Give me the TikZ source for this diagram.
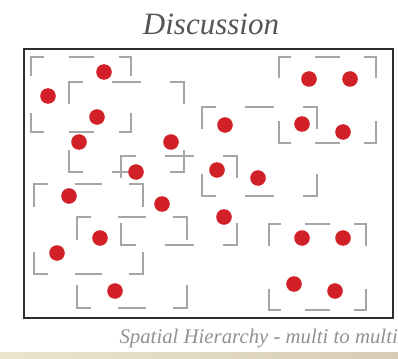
\documentclass[tikz,border=0pt]{standalone}
\usepackage{fontspec}
\setmainfont{Liberation Serif}
\definecolor{dotred}{RGB}{210,32,40}
\definecolor{grpgray}{RGB}{165,165,165}
\definecolor{framegray}{RGB}{45,45,45}
\definecolor{titlegray}{RGB}{85,85,85}
\definecolor{capgray}{RGB}{145,145,145}
\definecolor{stripa}{RGB}{236,228,205}
\definecolor{stripb}{RGB}{215,205,180}
\tikzset{
  grp/.style={draw=grpgray,line width=1.1pt,line join=miter},
  dot/.style={fill=dotred},
  frame/.style={draw=framegray,line width=1.4pt},
}
\newcommand{\grprect}[4]{%
  \pgfmathsetmacro\ga{(#3-#1)/8}%
  \pgfmathsetmacro\gb{(#4-#2)/4}%
  \pgfmathsetmacro\gm{(#1+#3)/2}%
  \draw[grp] (#1+\ga,#2) -- (#1,#2) -- (#1,#2+\gb);
  \draw[grp] (#3-\ga,#2) -- (#3,#2) -- (#3,#2+\gb);
  \draw[grp] (#1+\ga,#4) -- (#1,#4) -- (#1,#4-\gb);
  \draw[grp] (#3-\ga,#4) -- (#3,#4) -- (#3,#4-\gb);
  \draw[grp] (\gm-\ga,#2) -- (\gm+\ga,#2);
  \draw[grp] (\gm-\ga,#4) -- (\gm+\ga,#4);
}
\begin{document}
\begin{tikzpicture}[x=1pt,y=-1pt]
\useasboundingbox (0,0) rectangle (398,358);
\fill[white] (0,0) rectangle (398,358);
% bottom strip
\shade[left color=stripa,right color=stripb] (0,352) rectangle (398,358);
% title
\node[anchor=base,text=titlegray,font=\fontsize{31}{34}\selectfont\itshape,inner sep=0pt] (title) at (211,35) {Discussion};
% frame
\draw[frame] (24,49) rectangle (393,318);
% groups
\grprect{31}{57}{131}{132}
\grprect{69}{82}{184}{172}
\grprect{121}{156}{237}{245}
\grprect{34}{184}{143}{274}
\grprect{77}{217}{187}{308}
\grprect{279}{57}{376}{143}
\grprect{202}{107}{317}{196}
\grprect{269}{224}{366}{310}
% dots
\foreach \p in {(104,72),(48,96),(97,117),(79,142),(171,142),(136,172),
  (225,125),(309,79),(350,79),(302,124),(343,132),(217,170),(258,178),
  (69,196),(162,204),(224,217),(100,238),(57,253),(115,291),
  (302,238),(343,238),(294,284),(335,291)}
  \fill[dot] \p circle (7.8);
% caption
\node[anchor=base east,text=capgray,font=\fontsize{20.8}{24}\selectfont\itshape,inner sep=0pt] (caption) at (398,343) {Spatial Hierarchy - multi to multi};
\end{tikzpicture}
\end{document}
